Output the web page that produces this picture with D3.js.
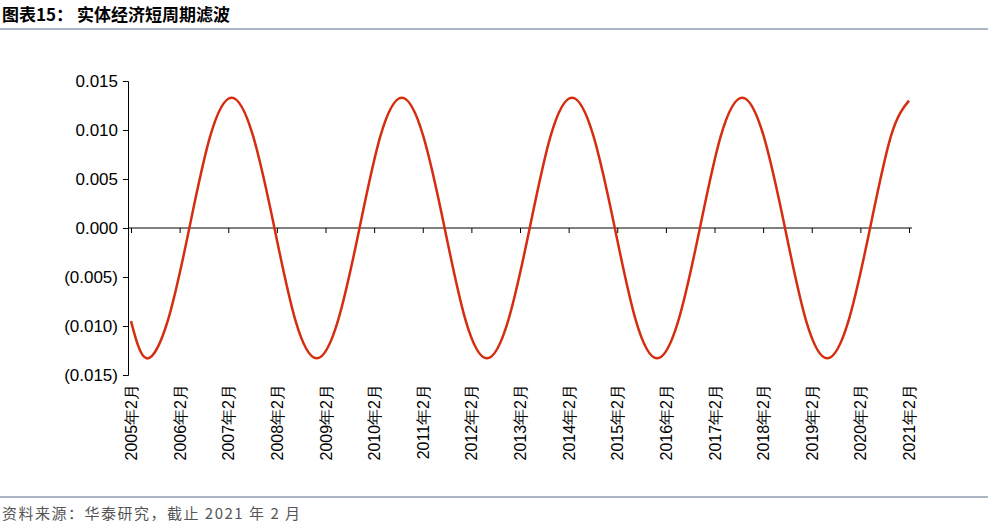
<!DOCTYPE html>
<html><head><meta charset="utf-8">
<script src="https://cdn.jsdelivr.net/npm/d3@7"></script>
<style>body{margin:0;background:#fff}</style>
</head><body><svg id="chart"></svg>
<script>
// values (decimal year, value)
const times = [2005.08, 2005.40, 2005.84, 2006.28, 2006.71, 2007.15, 2007.59, 2008.03, 2008.46, 2008.90,
  2009.34, 2009.78, 2010.21, 2010.65, 2011.09, 2011.53, 2011.96, 2012.40, 2012.84, 2013.28,
  2013.71, 2014.15, 2014.59, 2015.03, 2015.46, 2015.90, 2016.34, 2016.78, 2017.21, 2017.65,
  2018.09, 2018.53, 2018.96, 2019.40, 2019.84, 2020.28, 2020.71, 2021.08];
const values = [-0.0095, -0.0133, -0.0094, 0, 0.0094, 0.0133, 0.0094, 0, -0.0094, -0.0133,
  -0.0094, 0, 0.0094, 0.0133, 0.0094, 0, -0.0094, -0.0133, -0.0094, 0,
  0.0094, 0.0133, 0.0094, 0, -0.0094, -0.0133, -0.0094, 0, 0.0094, 0.0133,
  0.0094, 0, -0.0094, -0.0133, -0.0094, 0, 0.0094, 0.0130];
const years = d3.range(2005, 2022);
const yTicks = [0.015, 0.01, 0.005, 0, -0.005, -0.01, -0.015];

const width = 994, height = 529;
const svg = d3.select('#chart').attr('width', width).attr('height', height)
  .style('font-family', 'Arial, "Liberation Sans", sans-serif');

const x = d3.scaleLinear().domain([2005.08, 2021.08]).range([131, 909]);
const y = d3.scaleLinear().domain([-0.015, 0.015]).range([375, 81]);

// title and rules
svg.append('text').attr('x', 2).attr('y', 21).attr('font-size', 17).attr('font-weight', 'bold')
  .attr('font-family', '"Noto Sans CJK SC", sans-serif').text('图表15：  实体经济短周期滤波');
svg.append('line').attr('x1', 0).attr('x2', 988).attr('y1', 29).attr('y2', 29).attr('stroke', '#5a6f8a').attr('stroke-width', 1.2);
svg.append('line').attr('x1', 0).attr('x2', 988).attr('y1', 497).attr('y2', 497).attr('stroke', '#5a6f8a').attr('stroke-width', 1.2);
svg.append('text').attr('x', 2).attr('y', 519).attr('font-size', 15).attr('fill', '#555')
  .attr('letter-spacing', 1.5)
  .attr('font-family', '"Noto Sans CJK SC", sans-serif').text('资料来源：华泰研究，截止 2021 年 2 月');

// y axis
const fmt = v => v === 0 ? '0.000' : v < 0 ? `(${d3.format('.3f')(-v)})` : d3.format('.3f')(v);
const yAxis = svg.append('g').attr('transform', 'translate(128,0)')
  .call(d3.axisLeft(y).tickValues(yTicks).tickFormat(fmt).tickSize(5));
yAxis.select('.domain').attr('stroke', '#000');
yAxis.selectAll('text').attr('font-size', 17).attr('fill', '#000').attr('dx', -2);

// x axis on zero line
const xAxis = svg.append('g').attr('transform', `translate(0,${y(0)})`)
  .call(d3.axisBottom(x).tickValues(years.map(d => d + 0.08)).tickFormat('').tickSize(5));
xAxis.select('.domain').attr('d', `M128,0H${x(2021.08) + 3}`).attr('stroke', '#000');

svg.append('g').selectAll('text').data(years).join('text')
  .attr('transform', d => `translate(${x(d + 0.08) + 6},384) rotate(-90)`)
  .attr('text-anchor', 'end').attr('font-size', 16)
  .text(d => `${d}年2月`);

// line
svg.append('path')
  .datum(times.map((t, i) => [t, values[i]]))
  .attr('fill', 'none').attr('stroke', '#d42d10').attr('stroke-width', 2.5)
  .attr('d', d3.line().x(d => x(d[0])).y(d => y(d[1])).curve(d3.curveNatural));
</script></body></html>
